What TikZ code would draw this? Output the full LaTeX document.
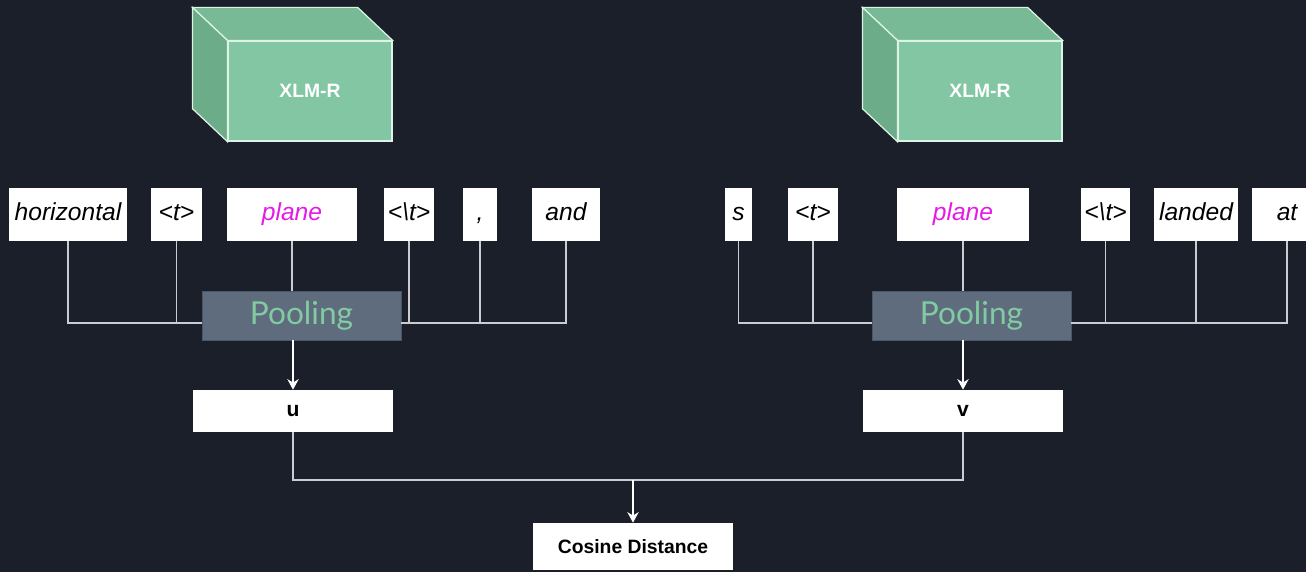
\documentclass[tikz,border=0pt]{standalone}
\usepackage{fontspec}
\setmainfont{Liberation Sans}
\newfontfamily\poolfont{Lato}
\usepackage{tikz}
\usetikzlibrary{positioning, arrows.meta}

\definecolor{bgdark}{HTML}{1B1F2A}
\definecolor{wire}{HTML}{C9CCD1}
\definecolor{mintfront}{HTML}{82C6A3}
\definecolor{minttop}{HTML}{78BA96}
\definecolor{mintside}{HTML}{6CAC89}
\definecolor{mintedge}{HTML}{DDF3E6}
\definecolor{poolfill}{HTML}{5E6C7D}
\definecolor{pooltext}{HTML}{82CBA2}
\definecolor{tokpink}{HTML}{E619E6}

\begin{document}
\begin{tikzpicture}[
        tok/.style={fill=white, minimum height=1.06cm, inner sep=0pt,
                    text height=10pt, text depth=3pt,
                    font=\fontsize{14}{16}\selectfont\itshape},
        pool/.style={fill=poolfill, draw=poolfill!80!black, minimum width=3.98cm,
                     minimum height=0.98cm, text=pooltext,
                     font=\poolfont\fontsize{18}{20}\selectfont},
        vec/.style={fill=white, minimum width=4.0cm, minimum height=0.84cm,
                    font=\fontsize{12}{14}\selectfont\bfseries},
        enc/.style={fill=mintfront, draw=mintedge, line width=0.7pt,
                    minimum width=3.28cm, minimum height=2.0cm, text=white,
                    font=\fontsize{11}{13}\selectfont\bfseries},
        line/.style={draw=wire, line width=0.6pt},
        arr/.style={line, ->, >={Stealth[length=6pt, width=6.5pt]}, draw=white},
    ]
    % --- Tło ---
    \fill[bgdark] (0,0) rectangle (26.12,-11.44);
    \useasboundingbox (0,0) rectangle (26.12,-11.44);

    % --- Enkodery XLM-R ---
    \node[enc] (encL) at (6.2,-1.82) {XLM-R};
    \node[enc] (encR) at (19.6,-1.82) {XLM-R};
    \foreach \e in {encL, encR} {
        \filldraw[fill=minttop, draw=mintedge, line width=0.7pt]
            (\e.north west) -- ([shift={(-0.7,0.66)}]\e.north west)
            -- ([shift={(-0.7,0.66)}]\e.north east) -- (\e.north east) -- cycle;
        \filldraw[fill=mintside, draw=mintedge, line width=0.7pt]
            (\e.north west) -- ([shift={(-0.7,0.66)}]\e.north west)
            -- ([shift={(-0.7,0.66)}]\e.south west) -- (\e.south west) -- cycle;
    }

    % --- Tokeny: lewe zdanie ---
    \node[tok, minimum width=2.36cm] (horizontal) at (1.36,-4.29) {horizontal};
    \node[tok, minimum width=1.02cm] (openL) at (3.53,-4.29) {<t>};
    \node[tok, minimum width=2.6cm, text=tokpink] (planeL) at (5.84,-4.29) {plane};
    \node[tok, minimum width=1.0cm] (closeL) at (8.18,-4.29) {<\textbackslash t>};
    \node[tok, minimum width=0.68cm] (comma) at (9.6,-4.29) {,};
    \node[tok, minimum width=1.36cm] (and) at (11.32,-4.29) {and};

    % --- Tokeny: prawe zdanie ---
    \node[tok, minimum width=0.54cm] (s) at (14.77,-4.29) {s};
    \node[tok, minimum width=1.0cm] (openR) at (16.26,-4.29) {<t>};
    \node[tok, minimum width=2.64cm, text=tokpink] (planeR) at (19.26,-4.29) {plane};
    \node[tok, minimum width=0.98cm] (closeR) at (22.11,-4.29) {<\textbackslash t>};
    \node[tok, minimum width=1.68cm] (landed) at (23.92,-4.29) {landed};
    \node[tok, minimum width=1.4cm] (at) at (25.74,-4.29) {at};

    % --- Pooling i wektory ---
    \node[pool] (poolL) at (6.03,-6.31) {Pooling};
    \node[pool] (poolR) at (19.43,-6.31) {Pooling};
    \node[vec] (u) at (5.86,-8.22) {u};
    \node[vec] (v) at (19.26,-8.22) {v};
    \node[fill=white, minimum width=4.0cm, minimum height=0.94cm,
          font=\fontsize{11}{13}\selectfont\bfseries] (cos) at (12.66,-10.93) {Cosine Distance};

    \coordinate (busL) at (6.03,-6.46);
    \coordinate (busR) at (19.43,-6.46);
    \coordinate (merge) at (12.66,-9.6);

    % --- Połączenia tokenów ---
    \draw[line] (horizontal.south) |- (poolL.west |- busL);
    \draw[line] (openL.south) -- (openL.south |- busL);
    \draw[line] (planeL.south) -- (planeL.south |- poolL.north);
    \draw[line] (and.south) |- (poolL.east |- busL);
    \draw[line] (closeL.south) -- (closeL.south |- busL);
    \draw[line] (comma.south) -- (comma.south |- busL);

    \draw[line] (s.south) |- (poolR.west |- busR);
    \draw[line] (openR.south) -- (openR.south |- busR);
    \draw[line] (planeR.south) -- (planeR.south |- poolR.north);
    \draw[line] (at.south) |- (poolR.east |- busR);
    \draw[line] (closeR.south) -- (closeR.south |- busR);
    \draw[line] (landed.south) -- (landed.south |- busR);

    % --- Strzałki ---
    \draw[arr] (poolL.south -| u.north) -- (u.north);
    \draw[arr] (poolR.south -| v.north) -- (v.north);
    \draw[line] (u.south) |- (merge) -| (v.south);
    \draw[arr] (merge) -- (cos.north);
\end{tikzpicture}
\end{document}
